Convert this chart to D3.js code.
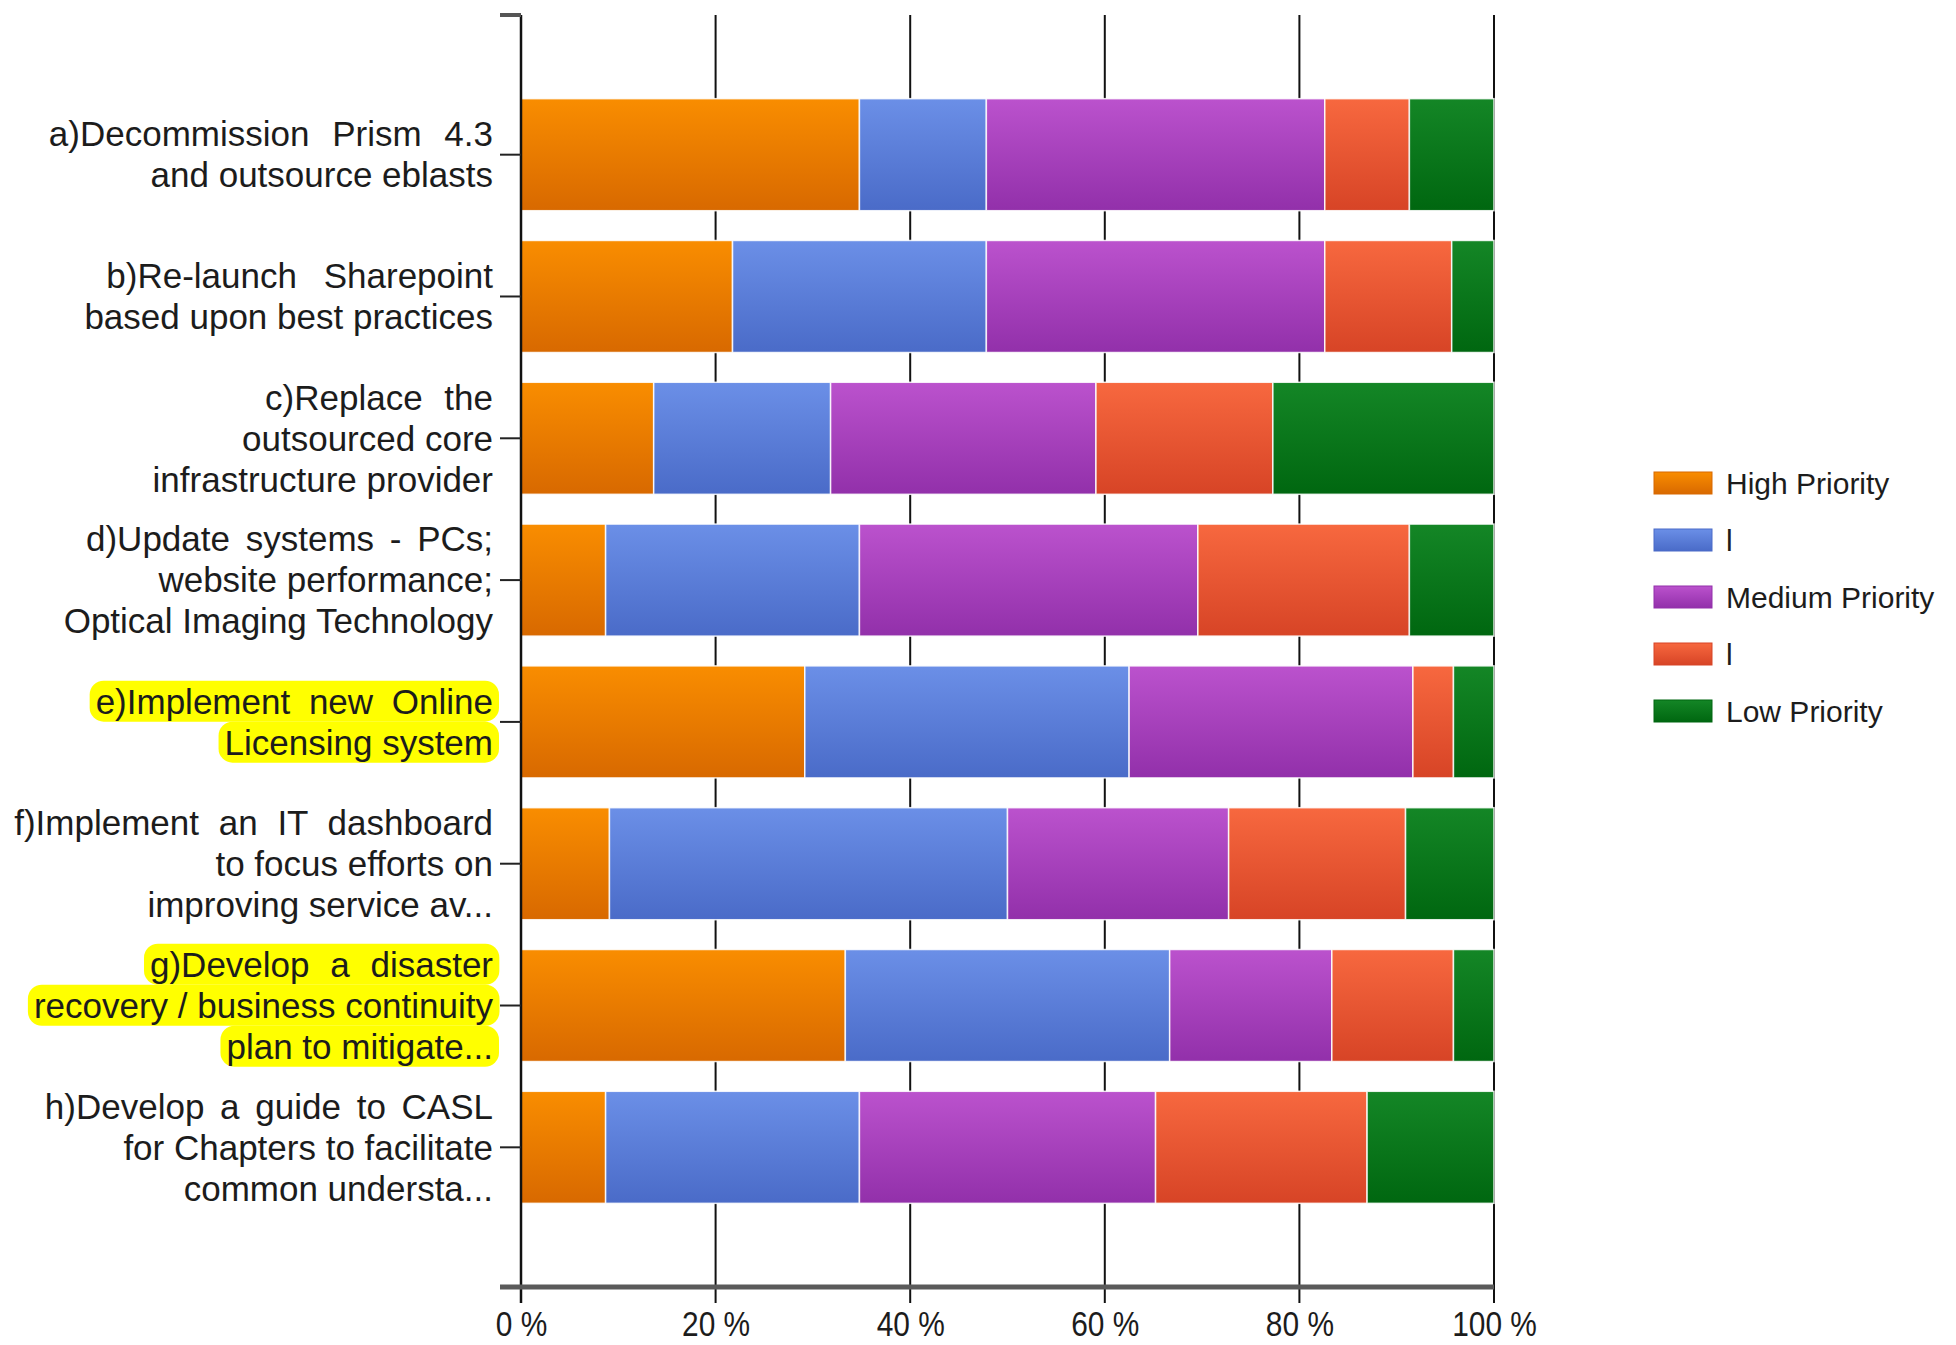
<!DOCTYPE html>
<html>
<head>
<meta charset="utf-8">
<script src="https://cdn.jsdelivr.net/npm/d3@7"></script>
<style>
  body { margin: 0; background: #fff; }
  svg { display: block; }
  text { font-family: "Liberation Sans", Arial, sans-serif; fill: #1c1c1c; }
</style>
</head>
<body>
<svg id="chart" width="1956" height="1345"></svg>
<script>
// categories (each label already wrapped like the original)
const categories = [
  ['a)Decommission Prism 4.3', 'and outsource eblasts'],
  ['b)Re-launch Sharepoint', 'based upon best practices'],
  ['c)Replace the', 'outsourced core', 'infrastructure provider'],
  ['d)Update systems - PCs;', 'website performance;', 'Optical Imaging Technology'],
  ['e)Implement new Online', 'Licensing system'],
  ['f)Implement an IT dashboard', 'to focus efforts on', 'improving service av...'],
  ['g)Develop a disaster', 'recovery / business continuity', 'plan to mitigate...'],
  ['h)Develop a guide to CASL', 'for Chapters to facilitate', 'common understa...']
];
const highlighted = [false, false, false, false, true, false, true, false];

const seriesNames = ['High Priority', 'l', 'Medium Priority', 'l', 'Low Priority'];

// responses per category (stacked to 100 %)
const highPriority   = [8, 5, 3, 2, 7, 2, 8, 2];
const highMid        = [3, 6, 4, 6, 8, 9, 8, 6];
const mediumPriority = [8, 8, 6, 8, 7, 5, 4, 7];
const midLow         = [2, 3, 4, 5, 1, 4, 3, 5];
const lowPriority    = [2, 1, 5, 2, 1, 2, 1, 3];

const xTicks = [0, 0.2, 0.4, 0.6, 0.8, 1];

// colours: [top, bottom] of each bar gradient
const colors = [
  ['#f98d00', '#d86900'],
  ['#6b8fe7', '#4a6bc8'],
  ['#bb52cd', '#9230aa'],
  ['#f7683f', '#d74426'],
  ['#148626', '#006710']
];
const firstLineSpacing = [13, 17, 12, 6, 9, 10, 11, 6];

const svg = d3.select('#chart');
const plotL = 521, plotR = 1494, plotT = 15, plotB = 1287, gridEnd = 1303;

const rows = categories.map((c, i) => ({
  idx: i,
  s0: highPriority[i], s1: highMid[i], s2: mediumPriority[i], s3: midLow[i], s4: lowPriority[i]
}));
const keys = ['s0', 's1', 's2', 's3', 's4'];
const stacked = d3.stack().keys(keys).offset(d3.stackOffsetExpand)(rows);

const x = d3.scaleLinear().domain([0, 1]).range([plotL, plotR]);
const y = d3.scaleBand()
  .domain(d3.range(categories.length))
  .range([plotT, plotB])
  .paddingInner(0.21)
  .paddingOuter(0.59);

// gradients
const defs = svg.append('defs');
colors.forEach((c, i) => {
  const g = defs.append('linearGradient')
    .attr('id', 'grad' + i)
    .attr('x1', 0).attr('y1', 0).attr('x2', 0).attr('y2', 1);
  g.append('stop').attr('offset', '0%').attr('stop-color', c[0]);
  g.append('stop').attr('offset', '100%').attr('stop-color', c[1]);
});

// vertical grid lines
svg.append('g')
  .selectAll('line')
  .data(xTicks.slice(1))
  .join('line')
    .attr('x1', d => x(d)).attr('x2', d => x(d))
    .attr('y1', plotT).attr('y2', gridEnd)
    .attr('stroke', '#111')
    .attr('stroke-width', 2);

// bars
svg.append('g')
  .selectAll('g')
  .data(stacked)
  .join('g')
    .attr('fill', (d, i) => `url(#grad${i})`)
  .selectAll('rect')
  .data(d => d)
  .join('rect')
    .attr('x', d => x(d[0]))
    .attr('y', d => y(d.data.idx))
    .attr('width', d => x(d[1]) - x(d[0]))
    .attr('height', y.bandwidth())
    .attr('stroke', 'rgba(255,255,255,0.85)')
    .attr('stroke-width', 1.5);

// left axis line + ticks
svg.append('line')
  .attr('x1', plotL).attr('x2', plotL)
  .attr('y1', plotT).attr('y2', gridEnd)
  .attr('stroke', '#111').attr('stroke-width', 2.5);
svg.append('g')
  .selectAll('line')
  .data(d3.range(categories.length))
  .join('line')
    .attr('x1', plotL - 21).attr('x2', plotL)
    .attr('y1', d => y(d) + y.bandwidth() / 2)
    .attr('y2', d => y(d) + y.bandwidth() / 2)
    .attr('stroke', '#222').attr('stroke-width', 2);
svg.append('line')
  .attr('x1', plotL - 21).attr('x2', plotL)
  .attr('y1', plotT).attr('y2', plotT)
  .attr('stroke', '#555').attr('stroke-width', 4);
svg.append('line')
  .attr('x1', plotL - 21).attr('x2', plotR)
  .attr('y1', plotB).attr('y2', plotB)
  .attr('stroke', '#5a5a5a').attr('stroke-width', 5);

// category labels
const lineH = 41;
const labels = svg.append('g')
  .selectAll('g')
  .data(categories)
  .join('g')
    .attr('transform', (d, i) => `translate(493,${y(i) + y.bandwidth() / 2})`);

labels.each(function(lines, i) {
  const g = d3.select(this);
  const n = lines.length;
  const texts = lines.map((t, j) => g.append('text')
    .attr('text-anchor', 'end')
    .attr('y', (j - (n - 1) / 2) * lineH)
    .attr('dy', '0.35em')
    .style('font-size', '35px')
    .style('word-spacing', j === 0 ? firstLineSpacing[i] + 'px' : null)
    .text(t));
  if (highlighted[i]) {
    texts.forEach(t => {
      const b = t.node().getBBox();
      g.insert('rect', 'text')
        .attr('x', b.x - 6).attr('y', b.y - 1)
        .attr('width', b.width + 12).attr('height', b.height + 2)
        .attr('rx', 14)
        .attr('fill', '#ffff00');
    });
  }
});

// x axis labels
const xAxis = svg.append('g')
  .attr('transform', `translate(0,1336)`)
  .call(d3.axisBottom(x).tickValues(xTicks).tickSize(0).tickFormat(d => Math.round(d * 100) + ' %'));
xAxis.select('.domain').remove();
xAxis.selectAll('text')
  .attr('y', 0).attr('dy', 0)
  .attr('transform', 'scale(0.83,1)')
  .style('font-size', '36px')
  .style('font-family', '"Liberation Sans", Arial, sans-serif')
  .attr('fill', '#1c1c1c');

// legend
const legend = svg.append('g')
  .selectAll('g')
  .data(seriesNames)
  .join('g')
    .attr('transform', (d, i) => `translate(1654,${483 + i * 57})`);
legend.append('rect')
  .attr('x', 0).attr('y', -11)
  .attr('width', 58).attr('height', 22)
  .attr('fill', (d, i) => `url(#grad${i})`)
  .attr('stroke', (d, i) => colors[i][1])
  .attr('stroke-width', 1);
legend.append('text')
  .attr('x', 72)
  .attr('dy', '0.35em')
  .style('font-size', '30px')
  .text(d => d);
</script>
</body>
</html>
